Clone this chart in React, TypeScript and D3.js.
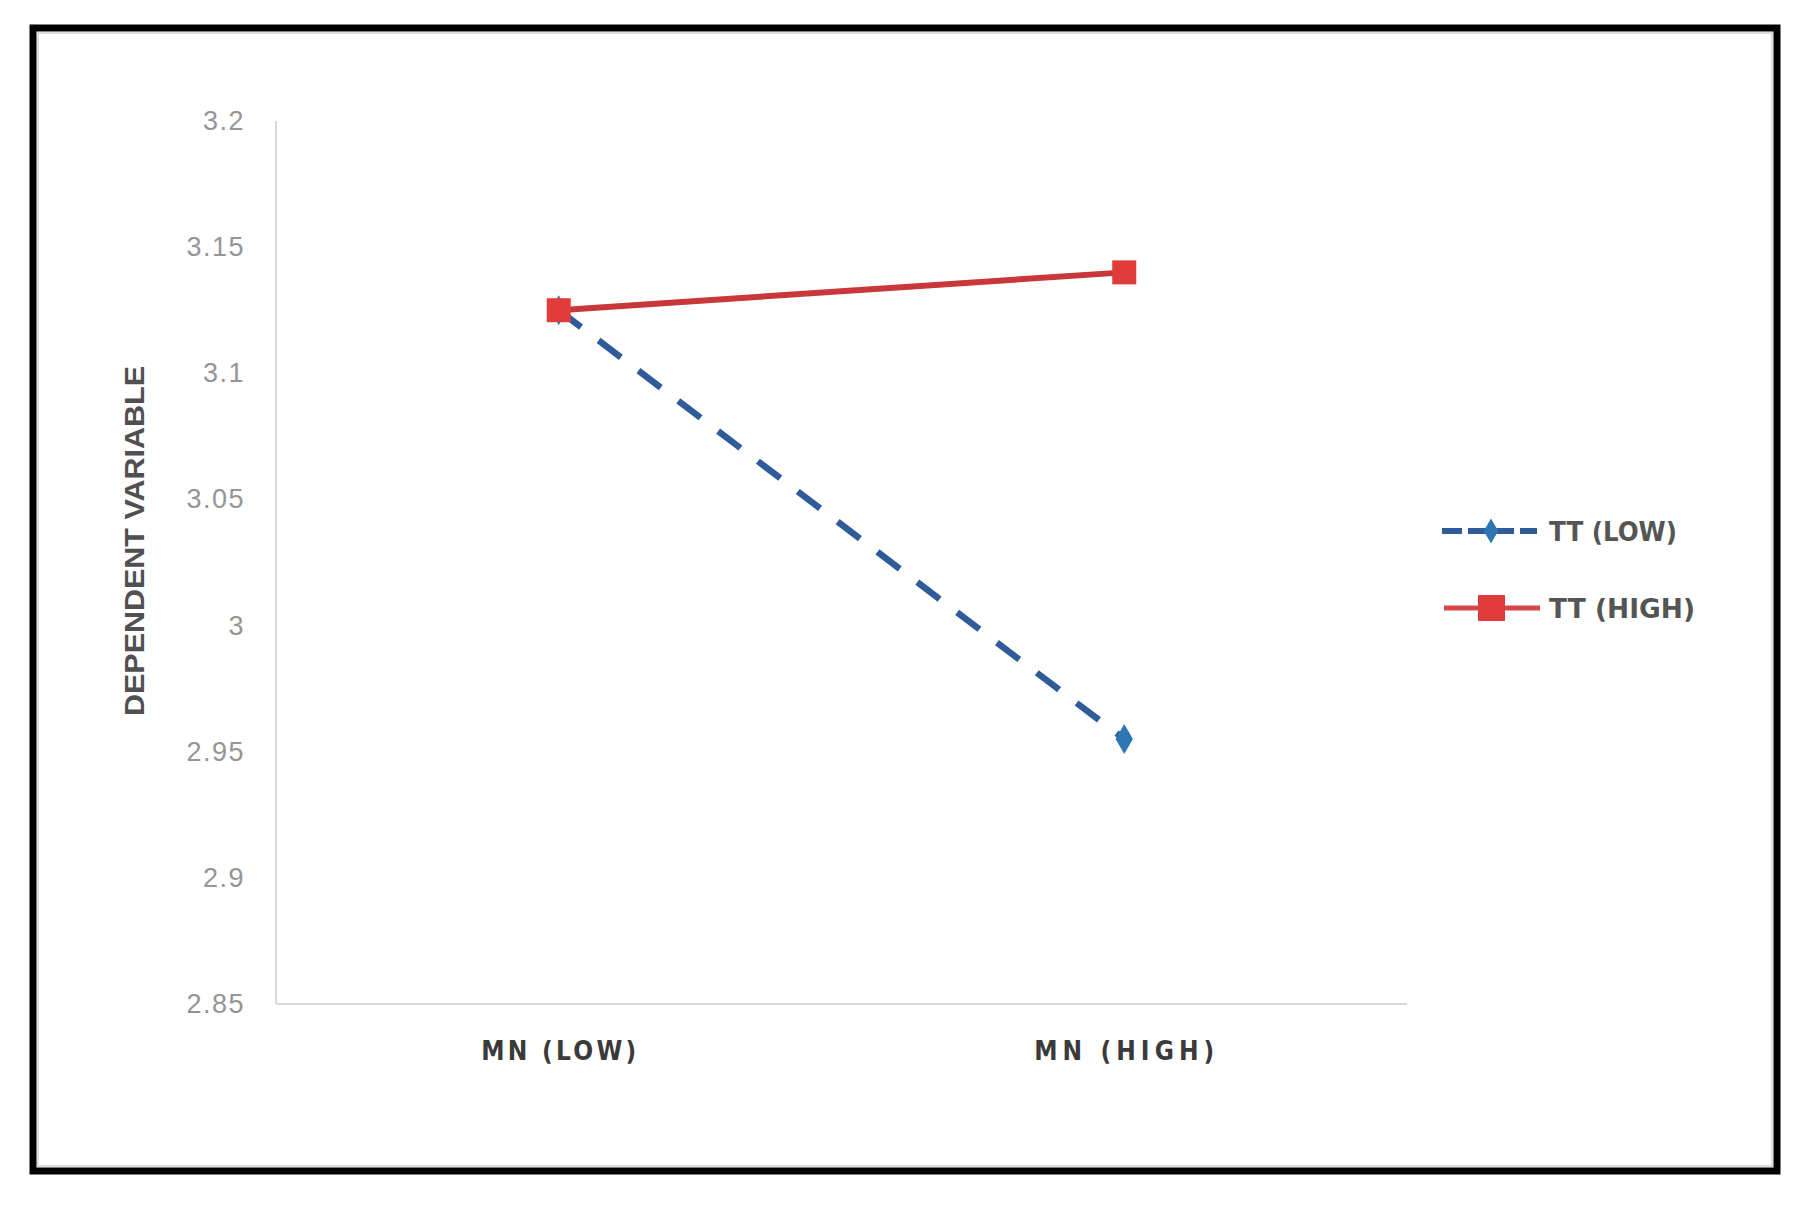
import React, { useEffect, useRef } from 'react';
import * as d3 from 'd3';

const categories = ['MN (LOW)', 'MN (HIGH)'];
const ttLow = [3.125, 2.955];
const ttHigh = [3.125, 3.14];
const yTicks = [2.85, 2.9, 2.95, 3, 3.05, 3.1, 3.15, 3.2];
const seriesNames = ['TT (LOW)', 'TT (HIGH)'];

const W = 1805;
const H = 1206;

const App = () => {
  const svgRef = useRef<SVGSVGElement | null>(null);

  useEffect(() => {
    const svg = d3.select(svgRef.current);
    svg.selectAll('*').remove();

    // frame
    svg.append('rect').attr('width', W).attr('height', H).attr('fill', '#fff');
    svg.append('rect')
      .attr('x', 33).attr('y', 28).attr('width', 1744).attr('height', 1143)
      .attr('fill', '#fff').attr('stroke', '#000').attr('stroke-width', 7);
    svg.append('rect')
      .attr('x', 38).attr('y', 33).attr('width', 1734).attr('height', 1133)
      .attr('fill', 'none').attr('stroke', '#dcdcdc').attr('stroke-width', 2);

    const x = d3.scaleBand().domain(categories).range([276, 1407]);
    const y = d3.scaleLinear().domain([2.85, 3.2]).range([1004, 121]);

    // axes
    const g = svg.append('g');
    g.append('line')
      .attr('x1', 276).attr('x2', 276).attr('y1', y(3.2)).attr('y2', y(2.85))
      .attr('stroke', '#d9d9d9').attr('stroke-width', 2);
    g.append('line')
      .attr('x1', 276).attr('x2', 1407).attr('y1', y(2.85)).attr('y2', y(2.85))
      .attr('stroke', '#d9d9d9').attr('stroke-width', 2);

    g.selectAll('.ytick')
      .data(yTicks)
      .enter()
      .append('text')
      .attr('x', 245)
      .attr('y', d => y(d))
      .attr('text-anchor', 'end')
      .attr('dominant-baseline', 'central')
      .attr('font-family', '"Liberation Sans", Arial, sans-serif')
      .attr('font-size', 27)
      .attr('letter-spacing', 1.5)
      .attr('fill', '#959595')
      .text(d => String(d));

    const xLabelLen = [155, 180];
    g.selectAll('.xtick')
      .data(categories)
      .enter()
      .append('text')
      .attr('x', d => (x(d) as number) + x.bandwidth() / 2)
      .attr('y', 1051)
      .attr('text-anchor', 'middle')
      .attr('dominant-baseline', 'central')
      .attr('font-family', '"DejaVu Sans Condensed", "DejaVu Sans", sans-serif')
      .attr('font-weight', 'bold')
      .attr('font-size', 26)
      .attr('textLength', (d, i) => xLabelLen[i])
      .attr('lengthAdjust', 'spacing')
      .attr('fill', '#3a3a3a')
      .text(d => d);

    svg.append('text')
      .attr('transform', `translate(134,541) rotate(-90)`)
      .attr('text-anchor', 'middle')
      .attr('dominant-baseline', 'central')
      .attr('font-family', '"Liberation Sans", Arial, sans-serif')
      .attr('font-weight', 'bold')
      .attr('font-size', 28)
      .attr('textLength', 350)
      .attr('lengthAdjust', 'spacingAndGlyphs')
      .attr('fill', '#505050')
      .text('DEPENDENT VARIABLE');

    const cx = (i: number) => (x(categories[i]) as number) + x.bandwidth() / 2;
    const line = d3.line<number>().x((_, i) => cx(i)).y(d => y(d));

    // TT (LOW)
    svg.append('path')
      .attr('d', line(ttLow))
      .attr('fill', 'none')
      .attr('stroke', '#2f5c98')
      .attr('stroke-width', 6.5)
      .attr('stroke-dasharray', '28,22');

    const diamond = d3.symbol().type(d3.symbolDiamond).size(260);
    svg.selectAll('.lowpt')
      .data(ttLow)
      .enter()
      .append('path')
      .attr('d', diamond)
      .attr('transform', (d, i) => `translate(${cx(i)},${y(d)})`)
      .attr('fill', '#2e75b6');

    // TT (HIGH)
    svg.append('path')
      .attr('d', line(ttHigh))
      .attr('fill', 'none')
      .attr('stroke', '#c8373a')
      .attr('stroke-width', 6);

    svg.selectAll('.highpt')
      .data(ttHigh)
      .enter()
      .append('rect')
      .attr('x', (d, i) => cx(i) - 12)
      .attr('y', d => y(d) - 12)
      .attr('width', 24)
      .attr('height', 24)
      .attr('fill', '#e03c3c');

    // legend
    const legend = svg.append('g');
    const ly = [531, 608];
    const legendLen = [128, 146];
    legend.append('line')
      .attr('x1', 1442).attr('x2', 1537).attr('y1', ly[0]).attr('y2', ly[0])
      .attr('stroke', '#2f5c98').attr('stroke-width', 6).attr('stroke-dasharray', '20,6');
    legend.append('path')
      .attr('d', d3.symbol().type(d3.symbolDiamond).size(180))
      .attr('transform', `translate(1491,${ly[0]})`)
      .attr('fill', '#2e75b6');
    legend.append('line')
      .attr('x1', 1444).attr('x2', 1540).attr('y1', ly[1]).attr('y2', ly[1])
      .attr('stroke', '#d9454a').attr('stroke-width', 5);
    legend.append('rect')
      .attr('x', 1478).attr('y', ly[1] - 13).attr('width', 27).attr('height', 26)
      .attr('fill', '#e03c3c');
    legend.selectAll('.ltext')
      .data(seriesNames)
      .enter()
      .append('text')
      .attr('x', 1549)
      .attr('y', (d, i) => ly[i])
      .attr('dominant-baseline', 'central')
      .attr('font-family', '"DejaVu Sans Condensed", "DejaVu Sans", sans-serif')
      .attr('font-weight', 'bold')
      .attr('font-size', 27)
      .attr('textLength', (d, i) => legendLen[i])
      .attr('lengthAdjust', 'spacingAndGlyphs')
      .attr('fill', '#555')
      .text(d => d);
  }, []);

  return (
    <svg
      ref={svgRef}
      width={W}
      height={H}
      style={{ position: 'absolute', left: 0, top: 0 }}
    />
  );
};

export default App;
